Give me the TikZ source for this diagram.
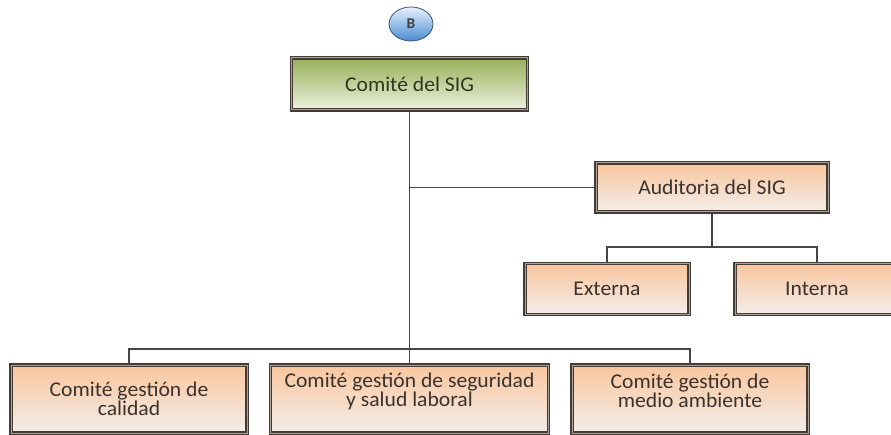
\documentclass[tikz,border=0pt]{standalone}
\usepackage{fontspec}
\setmainfont{Carlito}[FakeStretch=1.03]
\usetikzlibrary{shapes.geometric,calc}
\definecolor{linec}{RGB}{70,70,70}
\definecolor{boxedge}{RGB}{70,60,54}
\definecolor{boxgap}{RGB}{170,160,150}
\definecolor{orTop}{RGB}{249,198,158}
\definecolor{orBot}{RGB}{243,238,234}
\definecolor{grTop}{RGB}{150,176,88}
\definecolor{grBot}{RGB}{238,242,224}
\definecolor{txtc}{RGB}{60,50,44}
\definecolor{txtg}{RGB}{45,55,30}
\definecolor{bTop}{RGB}{232,242,252}
\definecolor{bBot}{RGB}{72,140,210}
\definecolor{bEdge}{RGB}{60,80,110}
\tikzset{
  orgbox/.style={rectangle, draw=boxedge, double=boxgap, double distance=1pt,
    line width=1.2pt, top color=orTop, bottom color=orBot, text=txtc,
    font=\fontsize{21}{19}\selectfont, align=center, inner sep=0pt},
  greenbox/.style={orgbox, top color=grTop, bottom color=grBot, text=txtg},
  lbl/.style={text=txtc, font=\fontsize{21}{19}\selectfont, align=center, inner sep=0pt},
  conn/.style={draw=linec, line width=1.3pt},
  ballnode/.style={ellipse, draw=bEdge, line width=0.8pt, top color=bTop, bottom color=bBot,
    minimum width=44pt, minimum height=34pt, inner sep=0pt,
    font=\fontsize{15}{15}\selectfont\bfseries, text=black!75}
}
\begin{document}
\begin{tikzpicture}[x=1pt,y=-1pt]
\useasboundingbox (0,0) rectangle (891,435);
\begin{scope}
\clip (0,0) rectangle (891,435);
% nodes
\node[ballnode] (B) at (411,24) {B};
\node[greenbox, minimum width=236pt, minimum height=52pt] (sig) at (409.5,84) {Comité del SIG};
\node[orgbox, minimum width=232pt, minimum height=49pt] (aud) at (712,187.5) {Auditoria del SIG};
\node[orgbox, minimum width=164pt, minimum height=51pt] (ext) at (607,289) {Externa};
\node[orgbox, minimum width=164pt, minimum height=51pt] (int) at (817,289) {Interna};
\node[orgbox, minimum width=236pt, minimum height=68pt] (cal) at (129,399) {Comité gestión de\\calidad};
\node[orgbox, minimum width=278pt, minimum height=68pt] (seg) at (409.5,399) {};
\node[lbl] (segT) at ($(seg.center)+(0,-8)$) {Comité gestión de seguridad\\y salud laboral};
\node[orgbox, minimum width=236pt, minimum height=68pt] (med) at (690,399) {};
\node[lbl] (medT) at ($(med.center)+(0,-8)$) {Comité gestión de\\medio ambiente};
% bus points
\coordinate (audbus) at (712,247);
\coordinate (bbus) at (409.5,349);
% connectors
\draw[conn] (sig.south) -- (seg.north);
\draw[conn] (sig.south |- aud.west) -- (aud.west);
\draw[conn] (aud.south) -- (audbus);
\draw[conn] (ext.north) |- (audbus) -| (int.north);
\draw[conn] (cal.north) |- (bbus) -| (med.north);
\end{scope}
\end{tikzpicture}
\end{document}
